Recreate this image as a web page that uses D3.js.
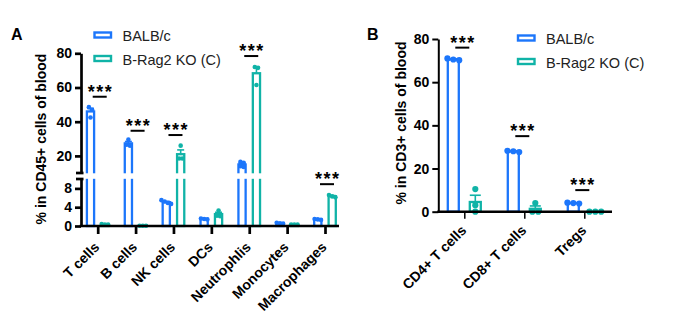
<!DOCTYPE html>
<html>
<head>
<meta charset="utf-8">
<script src="https://cdn.jsdelivr.net/npm/d3@7"></script>
<style>
  body { margin: 0; background: #fff; }
  text { font-family: "Liberation Sans", Arial, sans-serif; }
</style>
</head>
<body>
<div id="chart"></div>
<script>
const blue = "#1c76fb";
const teal = "#10b3a7";

// panel A: % of CD45+ cells
const catsA = ["T cells", "B cells", "NK cells", "DCs", "Neutrophlis", "Monocytes", "Macrophages"];
const balbA = [[48.5, 47, 42.5], [29.5, 26.5, 26], [5.5, 5.2, 4.7, 4.9], [1.5, 1.4, 1.6], [16.5, 16, 14, 13.5], [0.7, 0.6, 0.5], [1.5, 1.4, 1.3]];
const ragA = [[0.4, 0.3, 0.3], [0.05, 0.05, 0.05], [26, 18.5, 18.5], [3.3, 2.2, 2.1], [72, 71.5, 61.5], [0.3, 0.3, 0.3], [6.6, 6.3, 6.1]];
const sigCatsA = ["T cells", "B cells", "NK cells", "Neutrophlis", "Macrophages"];
const sigLevelA = [54.6, 34.7, 32.2, 78.4, 8.9];
const ticksUpA = [20, 40, 60, 80];
const ticksLoA = [0, 4, 8];

// panel B: % of CD3+ cells
const catsB = ["CD4+ T cells", "CD8+ T cells", "Tregs"];
const balbB = [[70.5, 71, 70.2], [28, 28.2, 27.6], [4.2, 4, 3.8]];
const ragB = [[10.5, 3, 0], [4, 0, 0], [0, 0, 0]];
const sigCatsB = ["CD4+ T cells", "CD8+ T cells", "Tregs"];
const sigLevelB = [76, 35, 10];
const ticksB = [0, 20, 40, 60, 80];

const groups = ["BALB/c", "B-Rag2 KO (C)"];

const svg = d3.select("#chart").append("svg")
  .attr("width", 673).attr("height", 322);

const mean = (a) => d3.mean(a);
const sem = (a) => a.length > 1 ? d3.deviation(a) / Math.sqrt(a.length) : 0;

// spread overlapping dots sideways
function swarm(vals, y, r, near, step) {
  const pts = vals.map((v, i) => ({ i, y: y(v) })).sort((a, b) => a.y - b.y);
  const clusters = [];
  pts.forEach((p) => {
    const c = clusters[clusters.length - 1];
    if (c && Math.abs(p.y - c[c.length - 1].y) < r * near) c.push(p);
    else clusters.push([p]);
  });
  const off = new Array(vals.length).fill(0);
  clusters.forEach((c) => c.forEach((p, k) => (off[p.i] = (k - (c.length - 1) / 2) * r * step)));
  return off;
}

function drawGroup(g, cats, series, x, y, base, opt) {
  series.forEach((ser, si) => {
    const color = si === 0 ? blue : teal;
    const dx = si === 0 ? -opt.shift : opt.shift;
    cats.forEach((c, ci) => {
      const vals = ser[ci];
      const m = mean(vals), e = sem(vals);
      const cx = x(c) + dx;
      g.append("rect")
        .attr("x", cx - opt.bw / 2).attr("y", y(m))
        .attr("width", opt.bw).attr("height", Math.max(0, base - y(m)))
        .attr("fill", "#fff").attr("stroke", color).attr("stroke-width", opt.sw);
      if (opt.gap && m > opt.gap[0]) {
        g.append("rect")
          .attr("x", cx - opt.bw / 2 - 2).attr("y", opt.gap[1])
          .attr("width", opt.bw + 4).attr("height", opt.gap[2] - opt.gap[1])
          .attr("fill", "#fff");
      }
      if (e > 0) {
        g.append("line").attr("x1", cx).attr("x2", cx)
          .attr("y1", y(m)).attr("y2", y(m + e))
          .attr("stroke", color).attr("stroke-width", 1.6);
        g.append("line").attr("x1", cx - opt.cap / 2).attr("x2", cx + opt.cap / 2)
          .attr("y1", y(m + e)).attr("y2", y(m + e))
          .attr("stroke", color).attr("stroke-width", 1.6);
      }
      const off = swarm(vals, y, opt.r, opt.near, opt.step);
      g.selectAll(null).data(vals).enter().append("circle")
        .attr("cx", (d, i) => cx + off[i]).attr("cy", (d) => y(d))
        .attr("r", opt.r).attr("fill", color);
    });
  });
}

function drawSig(g, cats, levels, x, y, dx) {
  cats.forEach((c, i) => {
    const cx = x(c) + dx, ly = y(levels[i]);
    g.append("line").attr("x1", cx - 7).attr("x2", cx + 7)
      .attr("y1", ly).attr("y2", ly).attr("stroke", "#000").attr("stroke-width", 2);
    g.append("text").attr("x", cx + 0.8).attr("y", ly + 1)
      .attr("text-anchor", "middle").attr("font-size", 18).attr("font-weight", "bold")
      .attr("letter-spacing", 1.5).text("***");
  });
}

function styleAxis(sel, sw) {
  sel.selectAll(".domain").attr("stroke", "#000").attr("stroke-width", sw);
  sel.selectAll(".tick line").attr("stroke", "#000").attr("stroke-width", sw);
  sel.selectAll(".tick text").attr("fill", "#000").attr("font-size", 14)
    .attr("font-weight", "bold").attr("font-family", "Liberation Sans, Arial, sans-serif");
}

function drawLegend(g, x0, y0, step) {
  groups.forEach((name, i) => {
    const color = i === 0 ? blue : teal;
    g.append("rect").attr("x", x0).attr("y", y0 + i * step)
      .attr("width", 16.5).attr("height", 5)
      .attr("fill", "#fff").attr("stroke", color).attr("stroke-width", 2.4);
    g.append("text").attr("x", x0 + 28).attr("y", y0 + i * step + 8.5)
      .attr("font-size", 14.5).attr("fill", "#222").text(name);
  });
}

// ---------- panel A ----------
const gA = svg.append("g");
const axA = 81, baseA = 226;
const xA = d3.scalePoint().domain(catsA).range([97.7, 325]);
const yUp = d3.scaleLinear().domain([10, 80]).range([173, 53.3]);
const yLo = d3.scaleLinear().domain([0, 10]).range([baseA, 179]);
const yA = (v) => (v >= 10 ? yUp(v) : yLo(v));

drawGroup(gA, catsA, [balbA, ragA], xA, yA, baseA,
  { shift: 7.2, bw: 7.2, sw: 2.3, cap: 7, r: 2.3, near: 1.2, step: 1.4, gap: [10, 173.3, 178.8] });

const aUp = gA.append("g").attr("transform", `translate(${axA},0)`)
  .call(d3.axisLeft(yUp).tickValues(ticksUpA).tickSize(6).tickSizeOuter(0).tickPadding(3));
const aLo = gA.append("g").attr("transform", `translate(${axA},0)`)
  .call(d3.axisLeft(yLo).tickValues(ticksLoA).tickSize(6).tickSizeOuter(0).tickPadding(3));
styleAxis(aUp, 2.7);
styleAxis(aLo, 2.7);
// break marks
[173, 179].forEach((by) => {
  gA.append("line").attr("x1", axA - 5).attr("x2", axA + 2.5)
    .attr("y1", by).attr("y2", by).attr("stroke", "#000").attr("stroke-width", 2.7);
});

const xAxisA = gA.append("g").attr("transform", `translate(0,${baseA})`)
  .call(d3.axisBottom(xA).tickSize(8).tickSizeOuter(0).tickFormat(""));
xAxisA.select(".domain").remove();
styleAxis(xAxisA, 2.7);
gA.append("line").attr("x1", axA - 1.3).attr("x2", 339)
  .attr("y1", baseA).attr("y2", baseA).attr("stroke", "#000").attr("stroke-width", 2.7);

gA.selectAll(".xlab").data(catsA).enter().append("text")
  .attr("transform", (d) => `translate(${xA(d) + 2.5},${baseA + 22}) rotate(-45)`)
  .attr("text-anchor", "end").attr("font-size", 14).attr("font-weight", "bold").text((d) => d);

drawSig(gA, sigCatsA, sigLevelA, xA, yA, 2);

gA.append("text").attr("transform", "translate(46,139) rotate(-90)")
  .attr("text-anchor", "middle").attr("font-size", 14).attr("font-weight", "bold")
  .text("% in CD45+ cells of blood");
gA.append("text").attr("x", 11).attr("y", 40).attr("font-size", 16).attr("font-weight", "bold").text("A");
drawLegend(gA, 94.5, 32.5, 23.5);

// ---------- panel B ----------
const gB = svg.append("g");
const axB = 438.3, baseB = 211.7;
const xB = d3.scalePoint().domain(catsB).range([464.3, 584.3]);
const yB = d3.scaleLinear().domain([0, 80]).range([baseB, 39]);

drawGroup(gB, catsB, [balbB, ragB], xB, yB, baseB,
  { shift: 11, bw: 11, sw: 2.3, cap: 11, r: 3.1, near: 1.6, step: 1.9, gap: null });

const aB = gB.append("g").attr("transform", `translate(${axB},0)`)
  .call(d3.axisLeft(yB).tickValues(ticksB).tickSize(6).tickSizeOuter(0).tickPadding(3));
styleAxis(aB, 2);
const xAxisB = gB.append("g").attr("transform", `translate(0,${baseB})`)
  .call(d3.axisBottom(xB).tickSize(7).tickSizeOuter(0).tickFormat(""));
xAxisB.select(".domain").remove();
styleAxis(xAxisB, 1.5);
gB.append("line").attr("x1", axB - 1).attr("x2", 612)
  .attr("y1", baseB).attr("y2", baseB).attr("stroke", "#000").attr("stroke-width", 2.4);

gB.selectAll(".xlab").data(catsB).enter().append("text")
  .attr("transform", (d) => `translate(${xB(d) + 3},${baseB + 19.5}) rotate(-45)`)
  .attr("text-anchor", "end").attr("font-size", 14).attr("font-weight", "bold").text((d) => d);

drawSig(gB, sigCatsB, sigLevelB, xB, yB, -2);

gB.append("text").attr("transform", "translate(406,123) rotate(-90)")
  .attr("text-anchor", "middle").attr("font-size", 14).attr("font-weight", "bold")
  .text("% in CD3+ cells of blood");
gB.append("text").attr("x", 367).attr("y", 40).attr("font-size", 16).attr("font-weight", "bold").text("B");
drawLegend(gB, 518, 35.5, 23.5);
</script>
</body>
</html>
